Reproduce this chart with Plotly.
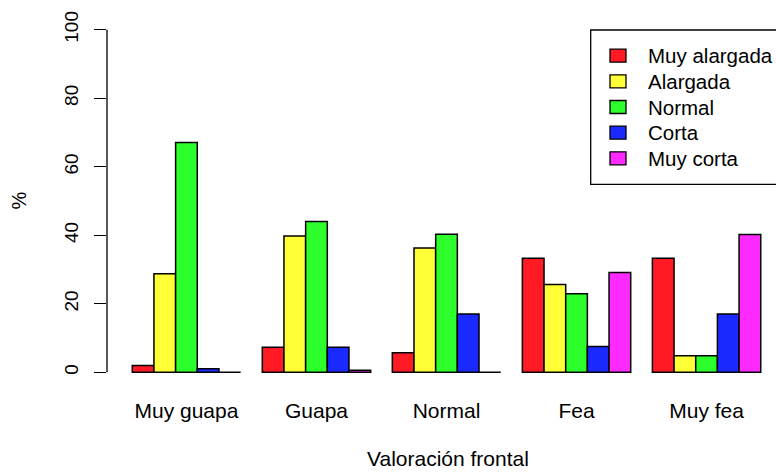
import plotly.graph_objects as go

# Facial-front rating groups and the percentage of each face-shape class
categories = ["Muy guapa", "Guapa", "Normal", "Fea", "Muy fea"]
series_names = ["Muy alargada", "Alargada", "Normal", "Corta", "Muy corta"]
muy_alargada = [2.0, 7.3, 5.7, 33.3, 33.3]
alargada = [28.8, 39.8, 36.3, 25.6, 4.8]
normal = [67.1, 44.0, 40.3, 22.9, 4.8]
corta = [1.0, 7.3, 17.0, 7.5, 17.0]
muy_corta = [0.0, 0.6, 0.0, 29.1, 40.2]
colors = ["#FF1A24", "#FFFF38", "#2CFF2C", "#1A2AFF", "#FF2AFF"]
y_ticks = [0, 20, 40, 60, 80, 100]

FONT = "Liberation Sans, Arial, Helvetica, sans-serif"
W, H = 776, 472
ML, MR, MT, MB = 107, 0, 16, 86
PW, PH = W - ML - MR, H - MT - MB


def px_x(px):
    """Pixel x -> paper x."""
    return (px - ML) / PW


def px_y(py):
    """Pixel y (from top) -> paper y."""
    return (H - MB - py) / PH


fig = go.Figure()
for name, vals, col in zip(series_names,
                           [muy_alargada, alargada, normal, corta, muy_corta],
                           colors):
    fig.add_trace(go.Bar(
        x=categories, y=vals, name=name, showlegend=False,
        marker=dict(color=col, line=dict(color="black", width=1.5)),
    ))

fig.update_layout(
    width=W, height=H,
    margin=dict(l=ML, r=MR, t=MT, b=MB),
    paper_bgcolor="white", plot_bgcolor="white",
    barmode="group", bargap=1 / 6, bargroupgap=0,
    font=dict(family=FONT, size=20, color="black"),
    showlegend=False,
    xaxis=dict(
        type="category", range=[-0.611, 4.534],
        showgrid=False, zeroline=False, showline=False, ticks="",
        tickfont=dict(size=21), ticklabelstandoff=10,
    ),
    yaxis=dict(
        range=[-4, 104], tickvals=y_ticks,
        ticks="outside", ticklen=12, tickwidth=1.3, tickcolor="black",
        tickangle=-90, tickfont=dict(size=19), ticklabelstandoff=8,
        showgrid=False, zeroline=False, showline=False,
    ),
)

# y axis line spanning only the labelled range
fig.add_shape(type="line", xref="paper", yref="y", x0=0, x1=0,
              y0=y_ticks[0], y1=y_ticks[-1],
              line=dict(color="black", width=1.3))

fig.add_annotation(text="Valoración frontal", xref="paper", yref="paper",
                   x=px_x(448), y=px_y(471.5), xanchor="center", yanchor="bottom",
                   showarrow=False, font=dict(size=21))
fig.add_annotation(text="%", xref="paper", yref="paper",
                   x=px_x(18.5), y=0.5, xanchor="center", yanchor="middle",
                   textangle=-90, showarrow=False, font=dict(size=20))

# Legend box with one filled key per face-shape class
fig.add_shape(type="rect", xref="paper", yref="paper",
              x0=px_x(590.7), x1=px_x(800), y0=px_y(184.3), y1=px_y(30),
              line=dict(color="black", width=1.3), fillcolor="white", layer="above")
row0, row_step = 55.7, 25.65
for i, (name, col) in enumerate(zip(series_names, colors)):
    cy = row0 + i * row_step
    fig.add_shape(type="rect", xref="paper", yref="paper",
                  x0=px_x(610), x1=px_x(626), y0=px_y(cy + 6.5), y1=px_y(cy - 6.5),
                  line=dict(color="black", width=1.3), fillcolor=col, layer="above")
    fig.add_annotation(text=name, xref="paper", yref="paper",
                       x=px_x(646), y=px_y(cy), xanchor="left", yanchor="middle",
                       showarrow=False, font=dict(size=20.5))

fig.write_html("out.html")
